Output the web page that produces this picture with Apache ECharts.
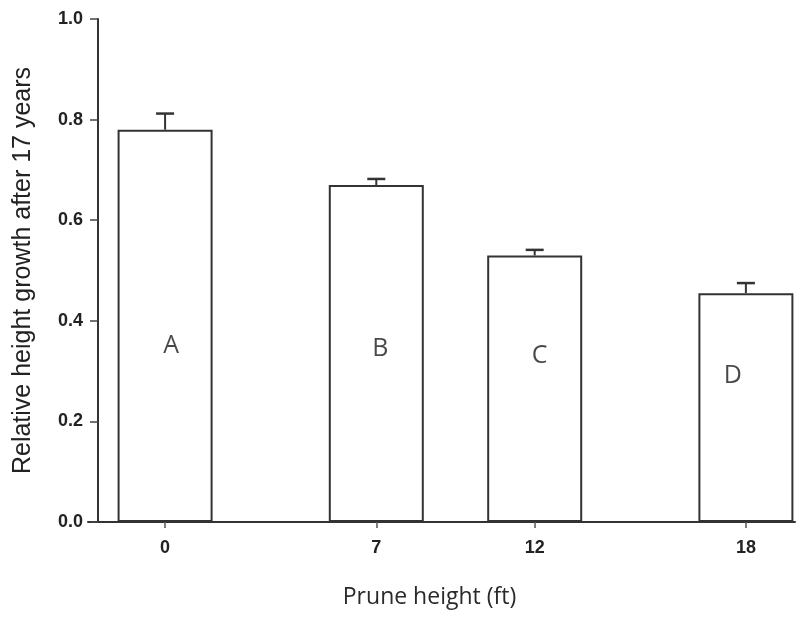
<html>
<head>
<meta charset="utf8">
<script src="https://cdn.jsdelivr.net/npm/echarts@6/dist/echarts.min.js"></script>
<title></title>
</head>
<body style="margin:0;background:#fff">
<div id="main" style="width:801px;height:629px"></div>
<script type="text/javascript">
	// chart values
	var pruneHeights = ['0', '7', '12', '18'];
	var growth = [0.78, 0.67, 0.53, 0.455];
	var errUp = [0.032, 0.012, 0.011, 0.02];
	var letters = ['A', 'B', 'C', 'D'];
	var letterAt = [0.35, 0.345, 0.33, 0.29];
	// the groups are not evenly spaced in the figure: slot of each group on the x axis
	var slots = [0, 4, 7, 11];

	function draw() {
		var chart = echarts.init(document.getElementById('main'));
		var letterShift = [6, 4, 5, -13];
		var barData = [], errData = [], letterData = [];
		for (var i = 0; i < slots.length; i++) {
			barData.push([slots[i], growth[i]]);
			errData.push([slots[i], growth[i], growth[i] + errUp[i]]);
			letterData.push({value: [slots[i], letterAt[i]], name: letters[i], label: {offset: [letterShift[i], 0]}});
		}
		var option = {
			animation: false,
			grid: {left: 88, right: 6, top: 19, bottom: 107},
			xAxis: {
				type: 'value', min: -1.46, max: 11.93,
				splitLine: {show: false},
				axisLine: {lineStyle: {color: '#333', width: 2}},
				axisTick: {customValues: slots, length: 6, lineStyle: {color: '#555', width: 1.5}},
				axisLabel: {
					customValues: slots, margin: 17, color: '#222',
					fontFamily: 'Liberation Sans', fontSize: 18, fontWeight: 'bold',
					formatter: function (v) { return pruneHeights[slots.indexOf(v)]; }
				},
				name: 'Prune height (ft)', nameLocation: 'middle', nameGap: 64,
				nameTextStyle: {fontFamily: 'Open Sans', fontSize: 23, color: '#2a2a2a', padding: [0, 24, 0, 0]}
			},
			yAxis: {
				type: 'value', min: 0, max: 1, interval: 0.2, offset: -10,
				splitLine: {show: false},
				axisLine: {show: true, onZero: false, lineStyle: {color: '#333', width: 2}},
				axisTick: {show: true, length: 8, lineStyle: {color: '#444', width: 1.5}},
				axisLabel: {
					margin: 15, color: '#222', fontFamily: 'Liberation Sans', fontSize: 18, fontWeight: 'bold',
					formatter: function (v) { return v.toFixed(1); }
				},
				name: 'Relative height growth after 17 years', nameLocation: 'middle', nameGap: 62,
				nameTextStyle: {fontFamily: 'Liberation Sans', fontSize: 25, color: '#222'}
			},
			series: [
				{
					type: 'bar', data: barData, barWidth: 95,
					itemStyle: {color: '#fff', borderColor: '#333', borderWidth: 2}
				},
				{
					type: 'custom', data: errData, z: 3,
					renderItem: function (params, api) {
						var base = api.coord([api.value(0), api.value(1)]);
						var top = api.coord([api.value(0), api.value(2)]);
						return {
							type: 'group',
							children: [
								{type: 'line', shape: {x1: base[0], y1: base[1], x2: top[0], y2: top[1]}, style: {stroke: '#333', lineWidth: 2}},
								{type: 'line', shape: {x1: top[0] - 9, y1: top[1], x2: top[0] + 9, y2: top[1]}, style: {stroke: '#333', lineWidth: 2.5}}
							]
						};
					}
				},
				{
					type: 'scatter', data: letterData, symbolSize: 0, z: 4,
					label: {
						show: true, position: 'inside', color: '#1a1a1a',
						fontFamily: 'Open Sans', fontSize: 25,
						formatter: '{b}'
					}
				}
			]
		};
		chart.setOption(option);
	}
	draw();
</script>
</body>
</html>
